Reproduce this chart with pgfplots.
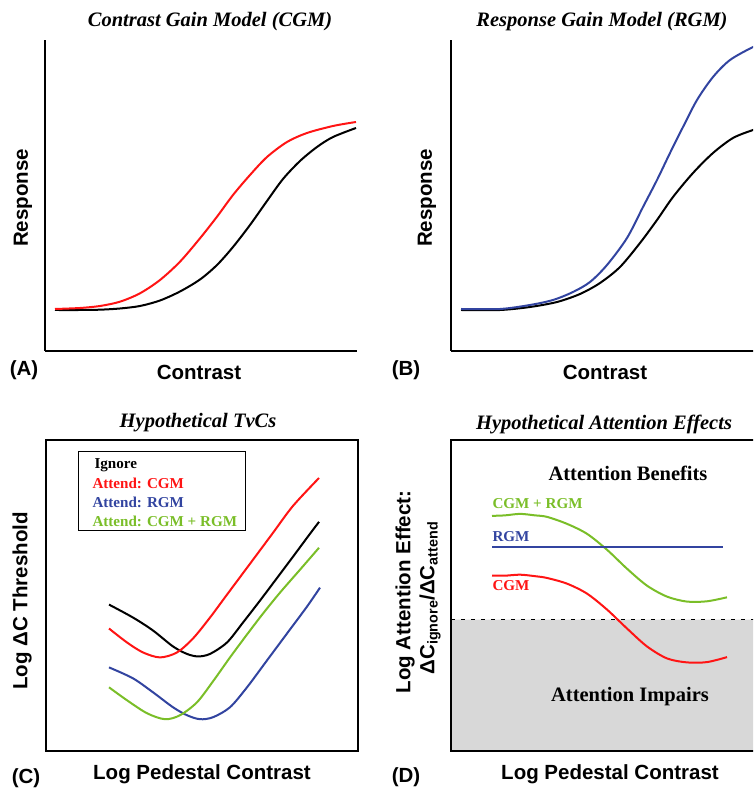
\documentclass[border=0pt]{standalone}
\usepackage{pgfplots}
\pgfplotsset{compat=1.18}
\usepackage{fontspec}
\setmainfont{Liberation Serif}
\newfontfamily\hv{Liberation Sans}

\definecolor{cgmred}{RGB}{255,20,20}
\definecolor{rgmblue}{RGB}{50,68,160}
\definecolor{bothgreen}{RGB}{122,190,40}
\definecolor{impairgray}{RGB}{216,216,216}

\newcommand{\lab}{\hv\bfseries\fontsize{20.5}{24}\selectfont}
\newcommand{\ttl}{\bfseries\itshape\fontsize{20.5}{24}\selectfont}
\newcommand{\smlab}{\bfseries\fontsize{15.1}{18}\selectfont}

\pgfplotsset{
  panel/.style={
    scale only axis, width=312pt, height=311pt,
    xtick=\empty, ytick=\empty,
    axis line style={line width=1.6pt},
    every axis plot/.append style={line width=2pt, mark=none, smooth},
    clip=true,
  },
  open/.style={panel, axis x line*=bottom, axis y line*=left, ymin=438, ymax=749},
  boxed/.style={panel, axis lines=box, ymin=38, ymax=350},
}

\begin{document}
\begin{tikzpicture}[x=1pt,y=1pt]
\useasboundingbox (0,0) rectangle (753,789);
\clip (0,0) rectangle (753,789);

% (A) contrast gain
\begin{axis}[open, at={(45,438)}, anchor=south west, xmin=45, xmax=357]
  \addplot[black] coordinates {(55,479)(80,479)(100,479.3)(120,480.5)(140,483)(160,488.5)(180,497.5)(200,509.5)(217,524)(233,542)(250,564)(267,588)(283,610)(300,628)(317,642)(333,652)(356,661)};
  \addplot[cgmred] coordinates {(55,480)(80,481)(100,483)(120,487.3)(140,495.7)(160,509)(180,527.3)(200,550.7)(217,572.3)(233,594)(250,614)(267,632)(287,647)(307,656)(333,663)(356,667)};
\end{axis}

% (B) response gain
\begin{axis}[open, at={(451,438)}, anchor=south west, xmin=451, xmax=763]
  \addplot[black] coordinates {(461,479)(500,479)(530,482)(557,487)(580,495)(600,506)(620,522)(640,546)(657,569)(673,592)(693,616)(713,636)(733,651)(753,659)(763,662)};
  \addplot[rgmblue] coordinates {(461,480)(500,480)(530,484)(553,489)(573,497)(590,507)(607,524)(627,551)(643,582)(657,609)(670,636)(683,662)(697,689)(713,712)(730,729)(753,742)(763,746)};
\end{axis}

% (C) TvCs
\begin{axis}[boxed, at={(46,38)}, anchor=south west, xmin=46, xmax=358]
  \addplot[black] coordinates {(109,185)(133,172)(153,159)(173,143)(187,135.5)(198,133)(210,135.5)(227,147)(243,167)(260,189)(275,209)(290,229)(307,252)(319,268)};
  \addplot[cgmred] coordinates {(109,161)(127,147)(143,137)(160,132)(177,137)(193,151)(210,172)(227,195)(253,230)(273,257)(293,284)(319,312)};
  \addplot[rgmblue] coordinates {(109,122)(133,111)(153,97)(173,82)(187,74)(200,70)(213,72)(230,82)(247,102)(267,129)(287,156)(307,183)(320,202)};
  \addplot[bothgreen] coordinates {(109,102)(127,89)(147,76)(165,70)(180,74)(197,87)(213,108)(230,132)(247,155)(263,176)(280,197)(300,220)(319,242)};
\end{axis}

% (D) attention effects
\begin{axis}[boxed, at={(451,38)}, anchor=south west, xmin=451, xmax=763, axis on top]
  \addplot[draw=none, fill=impairgray, sharp plot] coordinates {(451,38)(763,38)(763,170)(451,170)} \closedcycle;
  \addplot[black, line width=1.6pt, sharp plot, dash pattern=on 4pt off 6pt] coordinates {(451,170)(763,170)};
  \addplot[bothgreen] coordinates {(492,274)(505,274.5)(520,276)(535,274.5)(547,273)(567,266)(587,256)(607,240)(627,221)(647,204)(667,193)(687,188)(707,188.3)(727,192.3)};
  \addplot[rgmblue, sharp plot] coordinates {(492,243)(723,243)};
  \addplot[cgmred] coordinates {(492,214)(505,214)(520,215)(535,213.5)(547,211.7)(567,206)(587,196)(607,180)(627,161)(647,143)(667,131)(687,127)(707,127.3)(727,132.3)};
\end{axis}

% titles
\node[font=\ttl] at (210,767) {Contrast Gain Model (CGM)};
\node[font=\ttl] at (602,767) {Response Gain Model (RGM)};
\node[font=\ttl] at (198,366) {Hypothetical TvCs};
\node[font=\ttl] at (604,364) {Hypothetical Attention Effects};

% axis labels
\node[font=\lab] at (199,417) {Contrast};
\node[font=\lab] at (605,417) {Contrast};
\node[font=\lab] at (202,15) {Log Pedestal Contrast};
\node[font=\lab] at (610,15) {Log Pedestal Contrast};
\node[font=\lab, rotate=90] at (23,591) {Response};
\node[font=\lab, rotate=90] at (427,591) {Response};
\node[font=\lab, rotate=90] at (22,188) {Log ΔC Threshold};
\node[font=\lab, rotate=90] at (405,197) {Log Attention Effect:};
\node[font=\lab, rotate=90] at (430,191) {ΔC\textsubscript{ignore}/ΔC\textsubscript{attend}};

% panel letters
\node[font=\lab] at (24,419) {(A)};
\node[font=\lab] at (406,419) {(B)};
\node[font=\lab] at (26,11) {(C)};
\node[font=\lab] at (406,12) {(D)};

% legend of (C)
\draw[line width=1pt, fill=white] (78,337) rectangle (245,258);
\node[font=\smlab, anchor=west] at (91,324) {Ignore};
\node[font=\smlab, anchor=west, text=cgmred] at (89,306) {Attend: CGM};
\node[font=\smlab, anchor=west, text=rgmblue] at (89,287) {Attend: RGM};
\node[font=\smlab, anchor=west, text=bothgreen] at (89,268) {Attend: CGM + RGM};

% labels of (D)
\node[font=\lab\rmfamily] at (628,316) {Attention Benefits};
\node[font=\lab\rmfamily] at (630,92) {Attention Impairs};
\node[font=\smlab, anchor=west, text=bothgreen] at (489,285) {CGM + RGM};
\node[font=\smlab, anchor=west, text=rgmblue] at (489,252) {RGM};
\node[font=\smlab, anchor=west, text=cgmred] at (489,203) {CGM};
\end{tikzpicture}
\end{document}
